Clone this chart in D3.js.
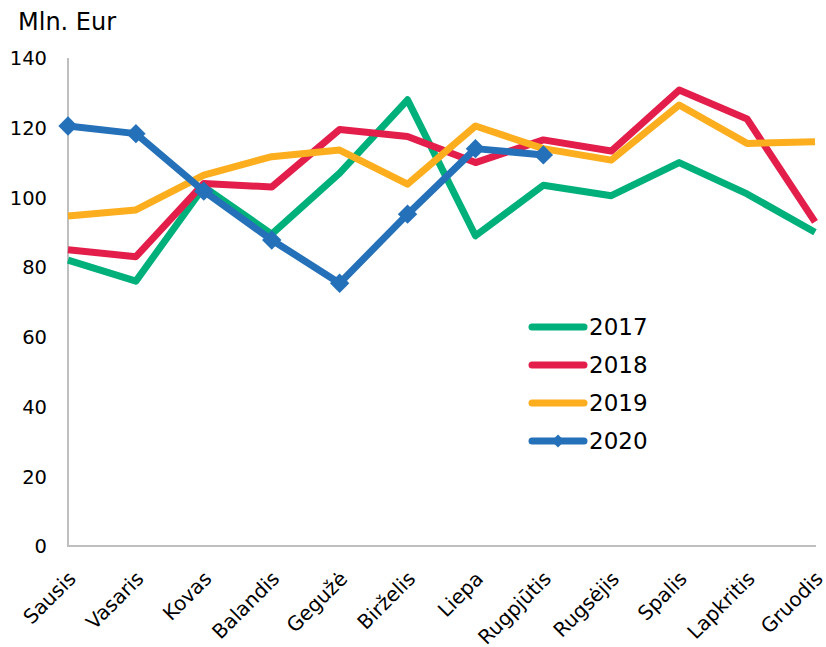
<!DOCTYPE html>
<html>
<head>
<meta charset="utf-8">
<script src="https://cdn.jsdelivr.net/npm/d3@7"></script>
<style>
body { margin: 0; background: #fff; }
text { font-family: "DejaVu Sans", Verdana, sans-serif; fill: #000; }
</style>
</head>
<body>
<div id="chart"></div>
<script>
// months along the x axis
var months = ["Sausis", "Vasaris", "Kovas", "Balandis", "Gegužė", "Birželis",
	"Liepa", "Rugpjūtis", "Rugsėjis", "Spalis", "Lapkritis", "Gruodis"]

// series values (Mln. Eur)
var v2017 = [82, 76, 103, 89.5, 107, 128, 89, 103.5, 100.5, 110, 101, 90]
var v2018 = [85, 83, 104, 103, 119.5, 117.5, 110, 116.5, 113.3, 130.8, 122.5, 93]
var v2019 = [94.7, 96.4, 106.4, 111.7, 113.6, 103.8, 120.5, 114, 110.7, 126.5, 115.5, 116]
var v2020 = [120.5, 118.3, 101.8, 87.8, 75.4, 95.2, 114, 112.2]

var years = ["2017", "2018", "2019", "2020"]
var colours = ["#00b07b", "#e31e4b", "#fcae1e", "#2571b9"]
var yTicks = [0, 20, 40, 60, 80, 100, 120, 140]

var w = 826, h = 647

var svg = d3.select("#chart")
	.append("svg")
	.attr("width", w)
	.attr("height", h)

var x = d3.scalePoint()
	.domain(months)
	.range([68, 815])

var y = d3.scaleLinear()
	.domain([0, 140])
	.range([546, 58])

// y axis labels
svg.append("g")
	.attr("transform", "translate(68,0)")
	.call(d3.axisLeft(y).tickValues(yTicks).tickSize(0).tickPadding(21))
	.call(function(g) { g.select(".domain").remove() })
	.selectAll("text")
	.style("font-size", "19.5px")
	.attr("dy", "0.35em")

// axis lines
svg.append("line")
	.attr("x1", 68).attr("x2", 68)
	.attr("y1", y(140)).attr("y2", y(0))
	.style("stroke", "#bfbfbf").style("stroke-width", 2)
svg.append("line")
	.attr("x1", 67).attr("x2", 816)
	.attr("y1", y(0)).attr("y2", y(0))
	.style("stroke", "#bfbfbf").style("stroke-width", 2)

// x labels, rotated
svg.append("g")
	.selectAll("text")
	.data(months)
	.enter()
	.append("text")
	.attr("transform", function(d) { return "translate(" + (x(d) + 9) + ",580) rotate(-45)" })
	.attr("text-anchor", "end")
	.style("font-size", "20px")
	.text(function(d) { return d })

// title
svg.append("text")
	.attr("x", 18).attr("y", 30)
	.style("font-size", "24px")
	.text("Mln. Eur")

var line = d3.line()
	.x(function(d, i) { return x(months[i]) })
	.y(function(d) { return y(d) })

var series = [v2017, v2018, v2019, v2020]

svg.append("g")
	.selectAll("path")
	.data(series)
	.enter()
	.append("path")
	.attr("d", line)
	.style("fill", "none")
	.style("stroke", function(d, i) { return colours[i] })
	.style("stroke-width", 7)
	.style("stroke-linejoin", "round")

// diamond markers for 2020
var diamond = d3.symbol().type(d3.symbolDiamond2).size(240)
svg.append("g")
	.selectAll("path")
	.data(v2020)
	.enter()
	.append("path")
	.attr("d", diamond)
	.attr("transform", function(d, i) { return "translate(" + x(months[i]) + "," + y(d) + ")" })
	.style("fill", colours[3])

// legend
var legY = [327, 365, 403, 441]
var leg = svg.append("g")
	.selectAll("g")
	.data(years)
	.enter()
	.append("g")
	.attr("transform", function(d, i) { return "translate(0," + legY[i] + ")" })

leg.append("line")
	.attr("x1", 532).attr("x2", 584)
	.style("stroke", function(d, i) { return colours[i] })
	.style("stroke-width", 7)
	.style("stroke-linecap", "round")

leg.append("text")
	.attr("x", 589)
	.attr("dy", "0.36em")
	.style("font-size", "23px")
	.text(function(d) { return d })

leg.filter(function(d) { return d == "2020" })
	.append("path")
	.attr("d", d3.symbol().type(d3.symbolDiamond2).size(110))
	.attr("transform", "translate(558,0)")
	.style("fill", colours[3])
</script>
</body>
</html>
